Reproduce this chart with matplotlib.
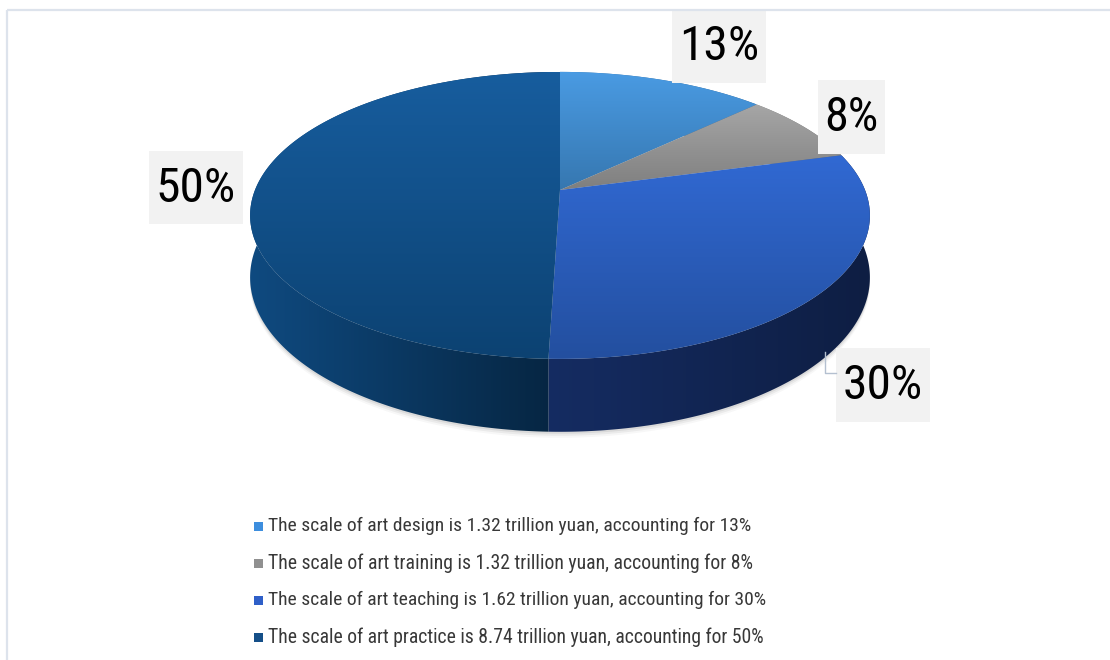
import numpy as np
import matplotlib
matplotlib.use("Agg")
import matplotlib.pyplot as plt
from matplotlib.patches import Polygon, Rectangle
import matplotlib.font_manager as fm

# ---- data ----
segments = ["design", "training", "teaching", "practice"]
scale_trillion = [1.32, 1.32, 1.62, 8.74]
share_pct = [13, 8, 30, 50]

top_colors = [("#4a9be3", "#3677b0"),
              ("#a6a6a6", "#7f7f7f"),
              ("#3169d3", "#234f9f"),
              ("#175d9e", "#0c4272")]
side_colors = [("#3677b0", "#2a5f90"),
               ("#7f7f7f", "#666666"),
               ("#152c62", "#0e1e43"),
               ("#0f4a80", "#062541")]
legend_colors = ["#3d8ede", "#909090", "#2f5fc8", "#154f88"]

# ---- font: prefer a narrow sans face when one is installed ----
def pick_font():
    pref = ["Liberation Sans Narrow", "Arial Narrow", "Roboto Condensed",
            "Noto Sans", "DejaVu Sans", "Open Sans"]
    narrow = [f for f in fm.fontManager.ttflist
              if str(f.stretch) not in ("normal", "500") and f.style == "normal"
              and str(f.weight) in ("400", "normal", "regular")]
    narrow.sort(key=lambda f: pref.index(f.name) if f.name in pref else len(pref))
    if narrow:
        return fm.FontProperties(fname=narrow[0].fname)
    return fm.FontProperties(family="Liberation Sans")


FP = pick_font()

W, H_PX = 1110, 660
fig = plt.figure(figsize=(W / 100, H_PX / 100), dpi=100)
ax = fig.add_axes([0, 0, 1, 1])
ax.set_xlim(0, W)
ax.set_ylim(H_PX, 0)
ax.axis("off")
renderer = fig.canvas.get_renderer()


def fitted_text(x, y, s, size, target_w, power=1.0, **kw):
    """Place text, shrinking it toward a target width if it runs wider."""
    t = ax.text(x, y, s, fontproperties=FP, **kw)
    t.set_fontsize(size)
    w = t.get_window_extent(renderer).width
    if w > target_w:
        t.set_fontsize(size * (target_w / w) ** power)
    return t


# ---- 3D pie geometry (pixel space, simple perspective) ----
CX, CY = 560, 190      # apex of the slices
R, B = 305, 139        # horizontal radius, vertical half-axis
K = 0.177              # perspective strength
DEPTH = 60             # thickness of the disc


def rim(phi):
    """Project rim points; phi measured clockwise from 12 o'clock."""
    X = R * np.sin(phi)
    D = -np.cos(phi)                 # +1 = nearest to viewer
    s = 1.0 / (1.0 - K * D)
    return CX + X * s, CY + B * D * s, s


def gradient_fill(poly_xy, c0, c1, vertical=True, z=1):
    patch = Polygon(poly_xy, closed=True, fc="none", ec="none", zorder=z)
    ax.add_patch(patch)
    x0, y0 = poly_xy.min(axis=0)
    x1, y1 = poly_xy.max(axis=0)
    a = np.array(matplotlib.colors.to_rgb(c0))
    b = np.array(matplotlib.colors.to_rgb(c1))
    t = np.linspace(0, 1, 256)
    grad = a[None, :] * (1 - t[:, None]) + b[None, :] * t[:, None]
    img = grad[:, None, :] if vertical else grad[None, :, :]
    im = ax.imshow(img, extent=(x0, x1, y1, y0), origin="upper",
                   aspect="auto", interpolation="bilinear", zorder=z)
    im.set_clip_path(patch)


total = float(sum(share_pct))
edges = np.concatenate([[0.0], np.cumsum(share_pct) / total * 2 * np.pi])

# soft shadow under the disc
phi_all = np.linspace(0, 2 * np.pi, 400)
sx, sy, ss = rim(phi_all)
for off, al in [(6, 0.03), (4, 0.05), (2, 0.07)]:
    ax.add_patch(Polygon(np.column_stack([sx, sy + DEPTH * ss + off]),
                         closed=True, fc="black", ec="none", alpha=al, zorder=0.5))

# side walls (drawn before the top faces, which hide the back ones)
for i in range(len(share_pct)):
    phi = np.linspace(edges[i], edges[i + 1], 200)
    x, y, s = rim(phi)
    top = np.column_stack([x, y])
    bot = np.column_stack([x, y + DEPTH * s])[::-1]
    gradient_fill(np.vstack([top, bot]), *side_colors[i], vertical=False,
                  z=1 + 0.01 * i)

# top faces
for i in range(len(share_pct)):
    phi = np.linspace(edges[i], edges[i + 1], 200)
    x, y, _ = rim(phi)
    poly = np.vstack([[CX, CY], np.column_stack([x, y])])
    gradient_fill(poly, *top_colors[i], vertical=True, z=2)

# ---- percentage labels in grey boxes ----
label_boxes = [(672, 10, 94, 73), (818, 80, 67, 74), (836, 348, 94, 74), (149, 151, 94, 73)]
label_text_w = [78, 52, 78, 78]
for v, (bx, by, bw, bh), tw in zip(share_pct, label_boxes, label_text_w):
    ax.add_patch(Rectangle((bx, by), bw, bh, fc="#f2f2f2", ec="none", zorder=4))
    fitted_text(bx + bw / 2, by + bh / 2 + 1, f"{v}%", 37, tw, power=0.6,
                color="#000000", ha="center", va="center", zorder=5)

# leader line for the 30% label
ax.plot([825, 825, 836], [352, 373, 373], color="#b4c0d0", lw=1.0, zorder=4)

# ---- legend ----
leg_y = [526, 563, 600, 637]
for name, sc, pct, col, yy in zip(segments, scale_trillion, share_pct,
                                  legend_colors, leg_y):
    ax.add_patch(Rectangle((254, yy - 4.5), 9, 9, fc=col, ec="none", zorder=5))
    line = (f"The scale of art {name} is {sc:.2f} trillion yuan, "
            f"accounting for {pct}%")
    target = 471 * len(line) / 65.0
    fitted_text(268, yy, line, 15.5, target, power=0.85, color="#383838",
                ha="left", va="center", zorder=5)

# chart frame
ax.add_patch(Rectangle((7, 10), 1120, 700, fc="none", ec="#dde3ec", lw=1.6, zorder=6))

fig.savefig("out.png", dpi=100)
